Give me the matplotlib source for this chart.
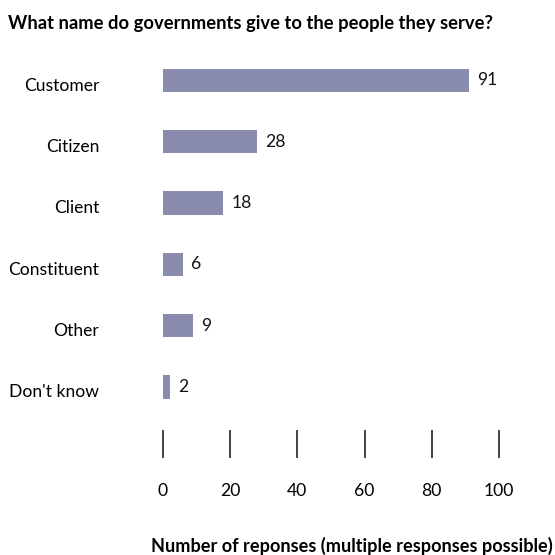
import matplotlib.pyplot as plt
import matplotlib.transforms as mtransforms

plt.rcParams['font.family'] = ['Lato', 'DejaVu Sans']

categories = ['Customer', 'Citizen', 'Client', 'Constituent', 'Other', "Don't know"]
responses = [91, 28, 18, 6, 9, 2]
xticks = [0, 20, 40, 60, 80, 100]

W, H = 555, 555
fig = plt.figure(figsize=(W / 100, H / 100), dpi=100)

# axes spans 0..100 horizontally, from the top bar down to the tick row
left, right, top, bottom = 163, 499, 60, 458
ax = fig.add_axes([left / W, 1 - bottom / H, (right - left) / W, (bottom - top) / H])

pos = list(range(len(categories)))
bars = ax.barh(pos, responses, height=0.38, color='#8a8cae')
ax.bar_label(bars, labels=[str(v) for v in responses], padding=6, fontsize=12.6, color='#111111')

ax.set_xlim(0, 100)
ax.set_ylim(6.16, -0.33)
ax.set_xticks(xticks)
ax.set_xticklabels([str(t) for t in xticks], fontsize=12.6)
ax.tick_params(axis='x', direction='in', length=20, width=1.1, color='#111111', pad=18)
ax.set_yticks(pos)
ax.set_yticklabels(categories, fontsize=12.6)
ax.tick_params(axis='y', length=0, pad=46)
# category names sit a little below the bar centres
shift = mtransforms.ScaledTranslation(0, -4 / 100, fig.dpi_scale_trans)
for lab in ax.get_yticklabels():
    lab.set_transform(lab.get_transform() + shift)

for s in ax.spines.values():
    s.set_visible(False)

fig.text(8 / W, 1 - 24 / H, 'What name do governments give to the people they serve?',
         fontsize=13.2, fontweight='bold', va='center', ha='left')
fig.text(352 / W, 1 - 546 / H, 'Number of reponses (multiple responses possible)',
         fontsize=13.1, fontweight='bold', va='center', ha='center')

fig.savefig('out.png', dpi=100)
